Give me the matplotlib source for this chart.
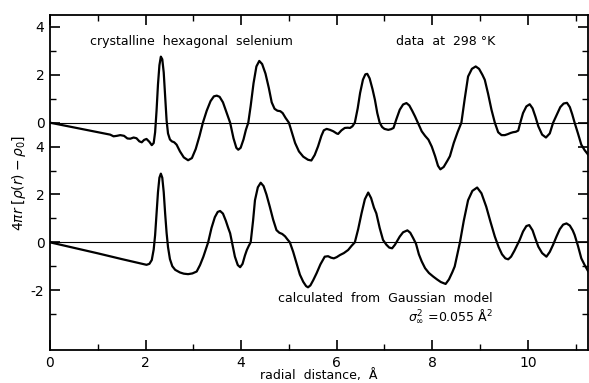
import matplotlib.pyplot as plt
from matplotlib.ticker import FixedLocator

r_data = [0.0, 0.5, 1.0, 1.26, 1.33, 1.40, 1.47, 1.55, 1.62, 1.68, 1.75, 1.81, 1.87, 1.92,
          1.97, 2.02, 2.08, 2.13, 2.17, 2.20, 2.23, 2.26, 2.29, 2.32, 2.35, 2.38, 2.41,
          2.44, 2.47, 2.51, 2.55, 2.60, 2.65, 2.72, 2.80, 2.89, 2.97, 3.05, 3.13, 3.20,
          3.28, 3.36, 3.43, 3.49, 3.55, 3.62, 3.70, 3.77, 3.84, 3.90, 3.94, 3.99, 4.05,
          4.10, 4.15, 4.20, 4.26, 4.32, 4.38, 4.44, 4.51, 4.58, 4.64, 4.70, 4.76, 4.82,
          4.87, 4.93, 5.00, 5.07, 5.13, 5.21, 5.30, 5.40, 5.47, 5.54, 5.61, 5.68, 5.73,
          5.79, 5.86, 5.93, 6.00, 6.03, 6.10, 6.17, 6.23, 6.28, 6.33, 6.38, 6.44, 6.49,
          6.55, 6.60, 6.64, 6.69, 6.75, 6.80, 6.85, 6.90, 6.95, 7.00, 7.08, 7.14, 7.19,
          7.25, 7.32, 7.39, 7.46, 7.52, 7.58, 7.64, 7.71, 7.78, 7.85, 7.92, 7.99, 8.06,
          8.12, 8.17, 8.24, 8.32, 8.37, 8.45, 8.53, 8.61, 8.68, 8.75, 8.83, 8.91, 8.98,
          9.05, 9.10, 9.17, 9.24, 9.31, 9.38, 9.45, 9.52, 9.58, 9.64, 9.69, 9.75, 9.80,
          9.85, 9.90, 9.97, 10.04, 10.10, 10.16, 10.22, 10.30, 10.38, 10.46, 10.53, 10.60,
          10.68, 10.75, 10.82, 10.88, 10.93, 10.98, 11.05, 11.12, 11.19, 11.26]
g_data = [0.0, -0.20, -0.40, -0.50, -0.57, -0.55, -0.52, -0.55, -0.66, -0.67, -0.62, -0.65,
          -0.78, -0.82, -0.72, -0.68, -0.80, -0.94, -0.85, -0.40, 0.50, 1.60, 2.40, 2.76,
          2.65, 2.10, 1.10, 0.10, -0.45, -0.70, -0.78, -0.82, -0.92, -1.20, -1.45, -1.57,
          -1.48, -1.10, -0.55, 0.0, 0.50, 0.90, 1.10, 1.13, 1.08, 0.85, 0.40, 0.0, -0.65,
          -1.05, -1.13, -1.05, -0.70, -0.30, 0.0, 0.70, 1.65, 2.35, 2.58, 2.45, 2.05, 1.45,
          0.85, 0.58, 0.50, 0.48, 0.40, 0.20, 0.0, -0.45, -0.85, -1.20, -1.42, -1.55,
          -1.58, -1.35, -0.99, -0.55, -0.32, -0.26, -0.30, -0.36, -0.45, -0.47, -0.32,
          -0.22, -0.21, -0.22, -0.15, 0.0, 0.60, 1.24, 1.80, 2.02, 2.04, 1.85, 1.40, 0.96,
          0.40, 0.0, -0.18, -0.26, -0.30, -0.27, -0.22, 0.15, 0.54, 0.76, 0.82, 0.72, 0.50,
          0.26, -0.05, -0.36, -0.55, -0.71, -1.00, -1.40, -1.80, -1.95, -1.85, -1.58,
          -1.40, -0.85, -0.40, 0.0, 1.00, 1.93, 2.25, 2.35, 2.25, 2.00, 1.79, 1.20, 0.54,
          0.0, -0.40, -0.52, -0.52, -0.48, -0.43, -0.40, -0.38, -0.33, 0.05, 0.40, 0.68,
          0.77, 0.60, 0.25, -0.15, -0.50, -0.62, -0.45, 0.0, 0.30, 0.65, 0.80, 0.83, 0.65,
          0.35, 0.0, -0.45, -0.92, -1.15, -1.33]

# calculated curve (Gaussian model)
r_calc = [0.0, 0.5, 1.0, 1.5, 2.02, 2.08, 2.13, 2.17, 2.20, 2.23, 2.26, 2.29, 2.32, 2.35,
          2.38, 2.41, 2.44, 2.47, 2.51, 2.56, 2.62, 2.72, 2.80, 2.89, 2.98, 3.07, 3.14,
          3.21, 3.26, 3.31, 3.38, 3.45, 3.51, 3.56, 3.62, 3.68, 3.73, 3.77, 3.82, 3.87,
          3.93, 3.98, 4.03, 4.08, 4.12, 4.16, 4.20, 4.25, 4.29, 4.35, 4.41, 4.47, 4.53,
          4.60, 4.67, 4.74, 4.80, 4.86, 4.92, 4.97, 5.02, 5.09, 5.16, 5.23, 5.30, 5.36,
          5.40, 5.45, 5.51, 5.58, 5.66, 5.75, 5.82, 5.88, 5.94, 6.00, 6.07, 6.15, 6.24,
          6.31, 6.38, 6.45, 6.52, 6.59, 6.66, 6.72, 6.78, 6.83, 6.90, 6.97, 7.04, 7.10,
          7.16, 7.22, 7.28, 7.32, 7.39, 7.48, 7.54, 7.60, 7.66, 7.72, 7.78, 7.85, 7.93,
          8.02, 8.10, 8.18, 8.28, 8.35, 8.42, 8.47, 8.52, 8.58, 8.66, 8.75, 8.84, 8.94,
          9.03, 9.13, 9.22, 9.31, 9.39, 9.46, 9.53, 9.59, 9.65, 9.72, 9.78, 9.83, 9.90,
          9.97, 10.03, 10.10, 10.16, 10.22, 10.30, 10.39, 10.46, 10.53, 10.60, 10.67,
          10.74, 10.81, 10.88, 10.94, 10.98, 11.05, 11.12, 11.19, 11.26]
g_calc = [0.0, -0.23, -0.46, -0.70, -0.94, -0.90, -0.74, -0.30, 0.30, 1.20, 2.10, 2.70,
          2.87, 2.70, 2.10, 1.20, 0.40, -0.20, -0.70, -1.00, -1.15, -1.26, -1.31, -1.33,
          -1.30, -1.22, -0.95, -0.60, -0.30, 0.0, 0.60, 1.05, 1.27, 1.31, 1.20, 0.90,
          0.60, 0.38, -0.10, -0.60, -0.95, -1.04, -0.90, -0.55, -0.32, -0.15, 0.0, 0.90,
          1.76, 2.30, 2.49, 2.35, 2.00, 1.49, 0.95, 0.51, 0.40, 0.35, 0.25, 0.12, 0.0,
          -0.40, -0.88, -1.35, -1.65, -1.83, -1.88, -1.80, -1.58, -1.29, -0.92, -0.60,
          -0.58, -0.64, -0.67, -0.62, -0.53, -0.45, -0.32, -0.15, 0.0, 0.55, 1.21, 1.80,
          2.08, 1.85, 1.45, 1.21, 0.60, 0.10, -0.10, -0.22, -0.25, -0.10, 0.10, 0.24,
          0.42, 0.50, 0.40, 0.18, -0.06, -0.50, -0.80, -1.08, -1.28, -1.43, -1.55, -1.66,
          -1.74, -1.55, -1.25, -1.01, -0.55, 0.0, 0.90, 1.76, 2.15, 2.29, 2.05, 1.49,
          0.85, 0.24, -0.20, -0.50, -0.67, -0.71, -0.60, -0.35, -0.10, 0.10, 0.45, 0.68,
          0.72, 0.50, 0.15, -0.18, -0.45, -0.60, -0.40, -0.10, 0.24, 0.55, 0.74, 0.79,
          0.70, 0.50, 0.31, -0.15, -0.67, -0.95, -1.20]

offset = 5  # upper curve is shifted up by 5 units

y_major = [-2, 0, 2, 4, 5, 7, 9]
y_labels = ['-2', '0', '2', '4', '0', '2', '4']
y_minor = [-3, -1, 1, 3, 6, 8]

fig = plt.figure(figsize=(5.89, 3.83), dpi=100)
ax = fig.add_axes([50 / 589, 33 / 383, 538 / 589, 335 / 383])

ax.axhline(0, color='black', lw=0.8)
ax.axhline(offset, color='black', lw=0.8)
ax.plot(r_data, [g + offset for g in g_data], color='black', lw=1.6)
ax.plot(r_calc, g_calc, color='black', lw=1.6)

ax.set_xlim(0, 11.26)
ax.set_ylim(-4.5, 9.5)

ax.xaxis.set_major_locator(FixedLocator([0, 2, 4, 6, 8, 10]))
ax.xaxis.set_minor_locator(FixedLocator([1, 3, 5, 7, 9, 11]))
ax.yaxis.set_major_locator(FixedLocator(y_major))
ax.yaxis.set_minor_locator(FixedLocator(y_minor))
ax.set_yticklabels(y_labels)
ax.set_xticklabels(['0', '2', '4', '6', '8', '10'])
ax.tick_params(which='both', direction='in', top=True, right=True, labelsize=10, pad=4)
ax.tick_params(which='major', length=7, width=1.2)
ax.tick_params(which='minor', length=4, width=1.0)
for s in ax.spines.values():
    s.set_linewidth(1.3)

ax.text(2.96, 8.4, 'crystalline  hexagonal  selenium', ha='center', va='center', fontsize=9)
ax.text(8.29, 8.4, 'data  at  298 °K', ha='center', va='center', fontsize=9)
ax.text(9.27, -2.36, 'calculated  from  Gaussian  model', ha='right', va='center', fontsize=9)
ax.text(9.27, -3.1, r'$\sigma_\infty^2$ =0.055 Å$^2$', ha='right', va='center', fontsize=9)

ax.set_xlabel('radial  distance,  Å', fontsize=9)
ax.xaxis.set_label_coords(0.5, -0.058)
ax.set_ylabel(r'$4\pi r\;[\rho(r) - \rho_0]$', fontsize=10, labelpad=2)

fig.savefig('out.png', dpi=100)
